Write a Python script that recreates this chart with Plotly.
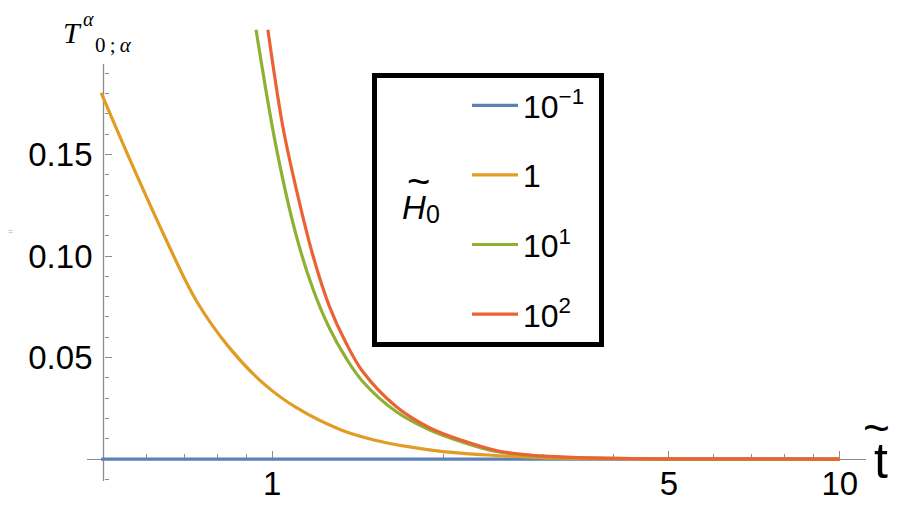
import numpy as np
import plotly.graph_objects as go

# values (x is t~, log scale)
t_blue = [0.5, 1.0, 2.0, 5.0, 10.0]
T_blue = [0.0, 0.0, 0.0, 0.0, 0.0]

t_orange = [0.5, 0.560, 0.643, 0.735, 0.840, 0.964, 1.102, 1.323, 1.512,
            1.735, 1.985, 2.401, 2.976, 3.80, 6.0, 10.0]
T_orange = [0.1803, 0.1483, 0.1111, 0.0781, 0.0550, 0.0374, 0.0254, 0.0143,
            0.0094, 0.0061, 0.0038, 0.0020, 0.0007, 0.0002, 0.00002, 0.0]

t_green = [0.937, 1.016, 1.102, 1.179, 1.262, 1.350, 1.444, 1.653, 1.892,
           2.166, 2.48, 2.84, 3.2, 4.0, 5.0, 10.0]
T_green = [0.2114, 0.1540, 0.1104, 0.0841, 0.0644, 0.0497, 0.0382, 0.0234,
           0.0144, 0.0083, 0.0037, 0.0018, 0.0010, 0.0003, 0.0001, 0.0]

t_red = [0.983, 1.044, 1.102, 1.179, 1.262, 1.350, 1.444, 1.653, 1.892,
         2.166, 2.48, 2.84, 3.2, 4.0, 5.0, 10.0]
T_red = [0.2114, 0.1640, 0.1334, 0.1006, 0.0751, 0.0571, 0.0431, 0.0259,
         0.0155, 0.0091, 0.0042, 0.0020, 0.0011, 0.0003, 0.0001, 0.0]

NB = "\u00a0"
series_names = ["10<sup>\u22121</sup>" + NB, "1" + NB, "10<sup>1</sup>" + NB, "10<sup>2</sup>" + NB]
series_colors = ["#5E81B5", "#E19C24", "#8FB032", "#EB6235"]

x_major = [1, 5, 10]
x_major_text = ["1", "5", "10"]
x_minor = [0.6, 0.7, 0.8, 0.9, 2, 3, 4, 6, 7, 8, 9]
y_major = [0.05, 0.10, 0.15]
y_major_text = ["0.05", "0.10", "0.15"]

AXIS_GRAY = "#8c8c8c"
TICK_FONT = dict(family="Liberation Sans", size=33, color="black")

y_lo, y_hi = -0.0118, 0.2118
x_lo, x_hi = -0.326, 1.046  # log10 units

# plot area in reference pixels: left 86, top 28, 779 x 454
PL, PT, PW, PH = 86, 28, 779, 454
SHIFT = 7  # page offset of the plot div

fig = go.Figure()
all_series = [(t_blue, T_blue), (t_orange, T_orange), (t_green, T_green), (t_red, T_red)]
for i, (tx, ty) in enumerate(all_series):
    fig.add_trace(
        go.Scatter(
            x=tx, y=ty,
            name=series_names[i],
            legendgroup=f"g{i}",
            mode="lines",
            line=dict(color=series_colors[i], width=3.2, shape="spline", smoothing=1.0),
            hoverinfo="skip",
        )
    )

# y-axis sits at x=0.5, x-axis at y=0 (Mathematica style axes)
ypos_frac = (np.log10(0.5) - x_lo) / (x_hi - x_lo) + 0.003
xpos_frac = (0 - y_lo) / (y_hi - y_lo)

y_minor = [round(v, 2) for v in np.arange(-0.01, 0.195, 0.01) if round(v, 2) not in (0.0, 0.05, 0.1, 0.15)]

fig.update_xaxes(
    type="log",
    range=[x_lo, x_hi],
    anchor="free",
    position=xpos_frac,
    showline=True, linecolor=AXIS_GRAY, linewidth=1.3,
    showgrid=False, zeroline=False,
    tickmode="array", tickvals=x_major, ticktext=x_major_text,
    ticks="inside", ticklen=8, tickwidth=1.2, tickcolor=AXIS_GRAY,
    ticklabelstandoff=-5,
    minor=dict(tickmode="array", tickvals=x_minor, ticks="inside", ticklen=5,
               tickwidth=1, tickcolor=AXIS_GRAY, showgrid=False),
    tickfont=TICK_FONT,
    layer="below traces",
)
fig.update_yaxes(
    range=[y_lo, y_hi],
    anchor="free",
    position=ypos_frac,
    showline=False,
    showgrid=False, zeroline=False,
    tickmode="array", tickvals=y_major, ticktext=y_major_text,
    ticks="inside", ticklen=7, tickwidth=1.2, tickcolor=AXIS_GRAY,
    ticklabelstandoff=11,
    minor=dict(tickmode="array", tickvals=y_minor, ticks="inside", ticklen=4,
               tickwidth=1, tickcolor=AXIS_GRAY, showgrid=False),
    tickfont=TICK_FONT,
    layer="below traces",
)

# vertical axis line (only over the plotted range, not the padding)
fig.add_shape(type="line", xref="paper", yref="y", x0=ypos_frac, x1=ypos_frac,
              y0=-0.0108, y1=0.1946, line=dict(color=AXIS_GRAY, width=1.3), layer="below")


def px(xp, yp):
    return (xp - PL) / PW, (PT + PH - yp) / PH


lx, ly = px(371, 72)
fig.update_layout(
    width=917, height=530,
    margin=dict(l=PL - SHIFT, r=917 - (PL - SHIFT) - PW, t=PT - SHIFT, b=530 - (PT - SHIFT) - PH),
    paper_bgcolor="white", plot_bgcolor="white",
    showlegend=True,
    legend=dict(
        x=lx, y=ly,
        xanchor="left", yanchor="top",
        bgcolor="white", bordercolor="black", borderwidth=5,
        font=dict(family="Liberation Sans", size=32, color="black"),
        title=dict(text=NB * 9, side="left", font=dict(size=32)),
        tracegroupgap=25,
        itemwidth=46,
        valign="middle",
    ),
)

labels = [
    # (text, x, y, size, family)
    ("<i>T</i>", 71, 31, 30, "Liberation Serif"),
    ("<i>\u03b1</i>", 87, 18, 20, "Liberation Serif"),
    ("0\u2009;\u2009<i>\u03b1</i>", 112, 44, 21, "Liberation Serif"),
    ("~", 875, 427, 46, "Liberation Sans"),
    ("t", 880, 460, 50, "Liberation Sans"),
    ("~", 417, 180, 40, "Liberation Sans"),
    ("<i>H</i>", 413, 206, 33, "Liberation Sans"),
    ("0", 432, 213, 25, "Liberation Sans"),
]
for txt, xp, yp, sz, fam in labels:
    ax, ay = px(xp, yp)
    fig.add_annotation(xref="paper", yref="paper", x=ax, y=ay, text=txt, showarrow=False,
                       xanchor="center", yanchor="middle",
                       font=dict(family=fam, size=sz, color="black"))

# small artefact at the left edge
ax, ay = px(5, 230)
fig.add_annotation(xref="paper", yref="paper", x=ax, y=ay, text="=", showarrow=False,
                   font=dict(family="Liberation Sans", size=9, color="#aaaaaa"))

fig.write_html("out.html")
